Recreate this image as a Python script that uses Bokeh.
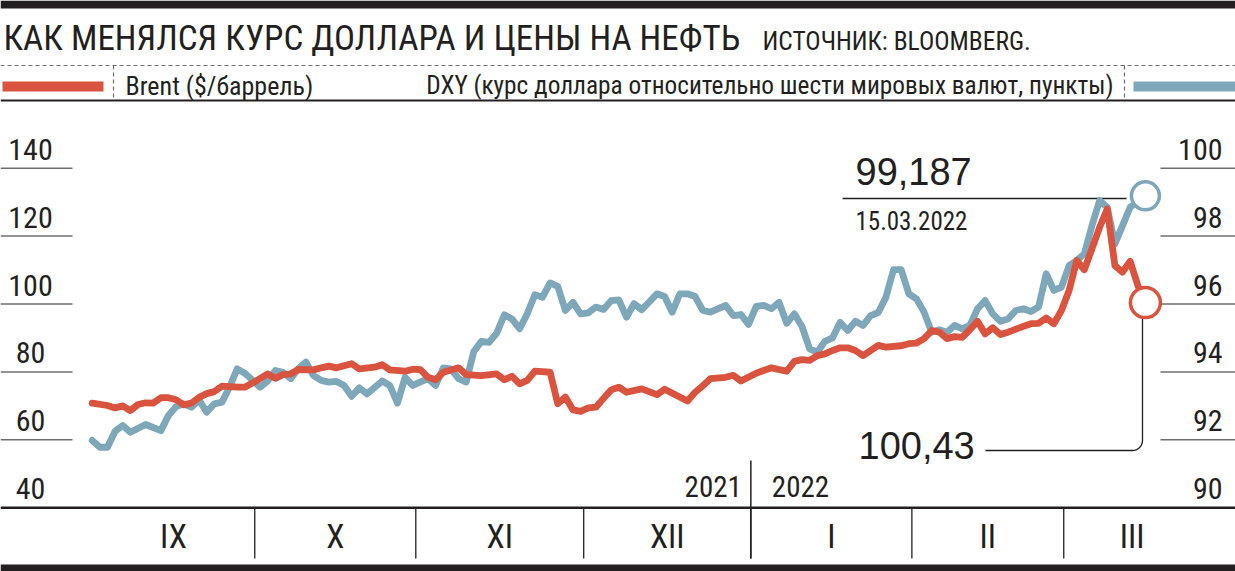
import numpy as np
from bokeh.plotting import figure
from bokeh.models import Range1d, Label, BoxAnnotation
from bokeh.embed import file_html
from bokeh.resources import INLINE

# ---------------- data (trading-day index from 1 Sep 2021) ----------------
brent_day = [0, 2, 3, 4, 5, 6, 7, 8, 9, 10, 11, 12, 13, 14, 15, 16, 17, 19, 20, 21,
             23, 24, 25, 26, 27, 29, 30, 31, 32, 34, 35, 37, 38, 39, 41, 42, 43, 44, 45, 46,
             48, 49, 51, 53, 54, 55, 56, 57, 58, 60, 61, 62, 63, 64, 65, 66, 67, 68, 69, 70,
             72, 74, 75, 78, 79, 80, 81, 83, 84, 85, 87, 89, 91, 92, 93, 94, 95, 96, 97, 98,
             99, 100, 101, 103, 104, 106, 107, 108, 109, 110, 111, 112, 113, 114, 115, 116,
             117, 118, 119, 120, 122, 123, 124, 125, 126, 127, 128, 129, 130, 131, 132, 133,
             134, 135, 136, 137, 138]
brent_usd = [70.8, 70.1, 69.4, 70.0, 68.6, 70.4, 70.9, 70.8, 72.4, 72.4, 71.8, 70.3, 70.8, 72.5,
             73.6, 74.2, 75.8, 75.5, 75.5, 76.7, 79.4, 78.1, 79.2, 79.4, 80.7, 80.6, 81.2, 81.7,
             81.2, 82.4, 80.9, 81.4, 82.1, 80.6, 80.2, 80.8, 80.7, 78.4, 77.7, 79.9, 81.2, 79.2,
             78.9, 79.4, 77.7, 78.7, 76.5, 77.5, 80.2, 79.9, 70.6, 72.6, 68.8, 68.4, 69.4, 69.6,
             72.2, 74.7, 75.5, 74.0, 75.0, 73.3, 74.9, 71.4, 74.0, 75.9, 78.0, 78.4, 79.0, 77.3,
             79.6, 81.2, 80.2, 83.1, 83.6, 83.4, 84.8, 85.3, 86.3, 87.1, 87.1, 86.3, 84.8, 87.8,
             87.3, 87.7, 88.3, 88.5, 89.8, 92.2, 91.7, 89.8, 90.4, 90.2, 92.4, 94.9, 91.2, 93.0,
             91.0, 91.7, 93.4, 94.2, 94.3, 95.9, 94.2, 98.1, 104.0, 112.8, 110.1, 116.3, 122.6,
             128.0, 111.3, 109.4, 112.6, 105.5, 100.43]

dxy_day = [0, 1, 2, 3, 4, 5, 7, 9, 10, 11, 12, 13, 14, 15, 16, 17, 18, 19, 20, 22, 23, 24, 25,
           26, 27, 28, 29, 30, 31, 32, 33, 34, 35, 36, 38, 39, 40, 41, 42, 44, 45, 46, 47, 48,
           49, 50, 51, 52, 53, 54, 55, 56, 57, 58, 59, 60, 61, 62, 63, 64, 65, 66, 67, 68, 69,
           70, 71, 72, 74, 75, 76, 77, 78, 79, 80, 81, 83, 84, 85, 86, 87, 88, 89, 90, 91, 92,
           93, 94, 95, 96, 97, 98, 99, 100, 101, 102, 103, 104, 105, 106, 107, 108, 109, 110,
           111, 112, 113, 114, 115, 116, 117, 118, 119, 120, 121, 122, 123, 124, 125, 126, 127,
           128, 129, 130, 131, 132, 133, 134, 135, 136, 138]
dxy_pts = [91.98, 91.78, 91.78, 92.25, 92.42, 92.22, 92.45, 92.27, 92.72, 92.98, 93.06, 92.96,
           93.18, 92.81, 93.06, 93.11, 93.55, 94.09, 93.96, 93.55, 93.73, 94.04, 93.99, 93.80,
           94.09, 94.29, 93.89, 93.75, 93.70, 93.72, 93.60, 93.28, 93.53, 93.35, 93.73, 93.60,
           93.08, 93.84, 93.60, 93.80, 93.60, 94.12, 94.09, 93.80, 93.70, 94.60, 94.90, 94.87,
           95.14, 95.68, 95.56, 95.27, 95.71, 96.27, 96.20, 96.62, 96.52, 95.81, 96.05, 95.71,
           95.74, 95.91, 95.84, 96.10, 96.12, 95.61, 96.01, 95.83, 96.30, 96.22, 95.76, 96.30,
           96.30, 96.22, 95.81, 95.76, 95.96, 95.66, 95.69, 95.40, 95.93, 95.96, 95.86, 96.05,
           95.43, 95.71, 95.34, 94.68, 94.58, 94.90, 95.00, 95.46, 95.22, 95.49, 95.37, 95.66,
           95.75, 96.20, 97.01, 97.01, 96.30, 96.15, 95.76, 95.17, 95.24, 95.17, 95.37, 95.27,
           95.37, 95.86, 96.10, 95.71, 95.49, 95.56, 95.81, 95.86, 95.78, 95.91, 96.89, 96.40,
           96.50, 97.13, 97.28, 97.48, 98.31, 99.05, 98.85, 97.77, 98.31, 98.85, 99.187]

brent_ticks = [40, 60, 80, 100, 120, 140]
dxy_ticks = [90, 92, 94, 96, 98, 100]
month_labels = ["IX", "X", "XI", "XII", "I", "II", "III"]
month_edges = [21.3, 42.4, 64.4, 86.3, 107.4, 127.3]   # borders between months (trading days)
year_edge = 86.3
brent_last_label = "100,43"
dxy_last_label = "99,187"
last_date_label = "15.03.2022"

# ---------------- helpers: layout pixels -> data space ----------------
X0, SX = 91.7, 7.632           # pixel of day 0, pixels per trading day
Y140, SY = 167.7, 3.395        # pixel of Brent 140, pixels per dollar
W, H = 1235, 571


def dx(px):
    return (px - X0) / SX


def dy(py):
    return 140 - (py - Y140) / SY


def px_of_brent(b):
    return Y140 + (140 - b) * SY


def to_dxy(b):
    return 86 + b / 10.0


def from_dxy(d):
    return (d - 86) * 10.0


RED = "#d9533f"
BLUE = "#7fa7ba"
INK = "#231f20"
GREY = "#6d6e70"
NARROW = "Roboto Condensed"
SANS = "Liberation Sans"

p = figure(width=W, height=H,
           x_range=Range1d(dx(0), dx(W)),
           y_range=Range1d(dy(H), dy(0)),
           output_backend="svg", toolbar_location=None,
           x_axis_location=None, y_axis_location=None, min_border=0)
p.extra_y_ranges = {"dxy": Range1d(to_dxy(dy(H)), to_dxy(dy(0)))}
p.grid.visible = False
p.outline_line_color = None
p.background_fill_color = "white"
p.border_fill_color = "white"

XL, XR = dx(0), dx(W)


def label(px, py, text, size, align="left", font=NARROW, x_offset=0):
    """Place text with its baseline at layout pixel py (corrected for the label box)."""
    s = float(size.replace("px", ""))
    lift = 0.38 * s if font == SANS else 0.3 * s + 2
    p.add_layout(Label(x=dx(px), y=dy(py - lift), x_offset=x_offset, text=text,
                       text_font=font, text_font_size=size, text_color=INK,
                       text_align=align, text_baseline="alphabetic"))


# top and bottom heavy bars
p.add_layout(BoxAnnotation(left=XL, right=XR, top=dy(0), bottom=dy(8), fill_color=INK,
                           fill_alpha=1, line_color=None))
p.add_layout(BoxAnnotation(left=XL, right=XR, top=dy(564), bottom=dy(571), fill_color=INK,
                           fill_alpha=1, line_color=None))

# title row
label(3, 50, "КАК МЕНЯЛСЯ КУРС ДОЛЛАРА И ЦЕНЫ НА НЕФТЬ", "35px")
label(762, 50, "ИСТОЧНИК: BLOOMBERG.", "25.5px")

# legend row
p.segment(x0=[XL], x1=[XR], y0=[dy(65)], y1=[dy(65)], line_color=GREY, line_width=1.2,
          line_dash="4 3")
p.segment(x0=[XL], x1=[XR], y0=[dy(100)], y1=[dy(100)], line_color=INK, line_width=2)
p.segment(x0=[dx(113), dx(1124)], x1=[dx(113), dx(1124)], y0=[dy(65)] * 2, y1=[dy(100)] * 2,
          line_color=GREY, line_width=1.2, line_dash="4 3")
p.segment(x0=[dx(2)], x1=[dx(103)], y0=[dy(86)], y1=[dy(86)], line_color=RED, line_width=10)
p.segment(x0=[dx(1133)], x1=[dx(1235)], y0=[dy(86)], y1=[dy(86)], line_color=BLUE,
          line_width=10)
label(125, 95, "Brent ($/баррель)", "26px")
label(1113, 95, "DXY (курс доллара относительно шести мировых валют, пункты)", "25.3px",
      align="right")

# left (Brent) tick lines and labels
tick_y = [t for t in brent_ticks if t > 40]
p.segment(x0=[dx(0)] * len(tick_y), x1=[dx(72)] * len(tick_y), y0=tick_y, y1=tick_y,
          line_color=GREY, line_width=1.5)
for t in brent_ticks:
    label(30, px_of_brent(t) - 8, str(t), "30px", align="center")

# right (DXY) tick lines and labels
rt = [t for t in dxy_ticks if t > 90]
p.segment(x0=[dx(1160)] * len(rt), x1=[dx(1235)] * len(rt), y0=rt, y1=rt,
          line_color=GREY, line_width=1.5, y_range_name="dxy")
for t in dxy_ticks:
    label(1222, px_of_brent(from_dxy(t)) - 8, str(t), "30px", align="right")

# bottom axis line, month dividers, year divider
p.segment(x0=[XL], x1=[XR], y0=[40], y1=[40], line_color=INK, line_width=2.5)
p.segment(x0=month_edges, x1=month_edges, y0=[40] * len(month_edges),
          y1=[dy(558)] * len(month_edges), line_color=INK, line_width=1.3)
p.segment(x0=[year_edge], x1=[year_edge], y0=[dy(460)], y1=[dy(558)], line_color=INK,
          line_width=1.5)
edges_full = [brent_day[0]] + month_edges + [dx(1200)]
centers = [(a + b) / 2 for a, b in zip(edges_full[:-1], edges_full[1:])]
for c, lab in zip(centers, month_labels):
    label(X0 + c * SX, 548, lab, "33px", align="center")
label(X0 + year_edge * SX, 497, "2021", "29px", align="right", x_offset=-9)
label(X0 + year_edge * SX, 497, "2022", "29px", align="left", x_offset=21)

# annotation lines
p.segment(x0=[dx(842)], x1=[dx(1126)], y0=[dy(198)], y1=[dy(198)], line_color=INK,
          line_width=1.3)
ang = np.linspace(-np.pi / 2, 0, 12)
cx, cy, r = 1132, 440, 10
path_x = [985] + list(cx + r * np.cos(ang)) + [1142]
path_y = [450] + list(cy - r * np.sin(ang)) + [317]
p.line([dx(v) for v in path_x], [dy(v) for v in path_y], line_color=INK, line_width=1.3)

# data lines
p.line(dxy_day, dxy_pts, line_color=BLUE, line_width=6.8, line_join="round",
       line_cap="round", y_range_name="dxy")
p.line(brent_day, brent_usd, line_color=RED, line_width=6.8, line_join="round",
       line_cap="round")

# end markers
p.scatter([dxy_day[-1]], [dxy_pts[-1]], marker="circle", size=28, fill_color="white",
          line_color=BLUE, line_width=3.5, y_range_name="dxy")
p.scatter([brent_day[-1]], [brent_usd[-1]], marker="circle", size=30, fill_color="white",
          line_color=RED, line_width=3.5)

# value annotations
label(855, 185, dxy_last_label, "38px", font=SANS)
label(855, 229, last_date_label, "25px")
label(858, 459, brent_last_label, "38px", font=SANS)

open("out.html", "w").write(file_html(p, INLINE))
